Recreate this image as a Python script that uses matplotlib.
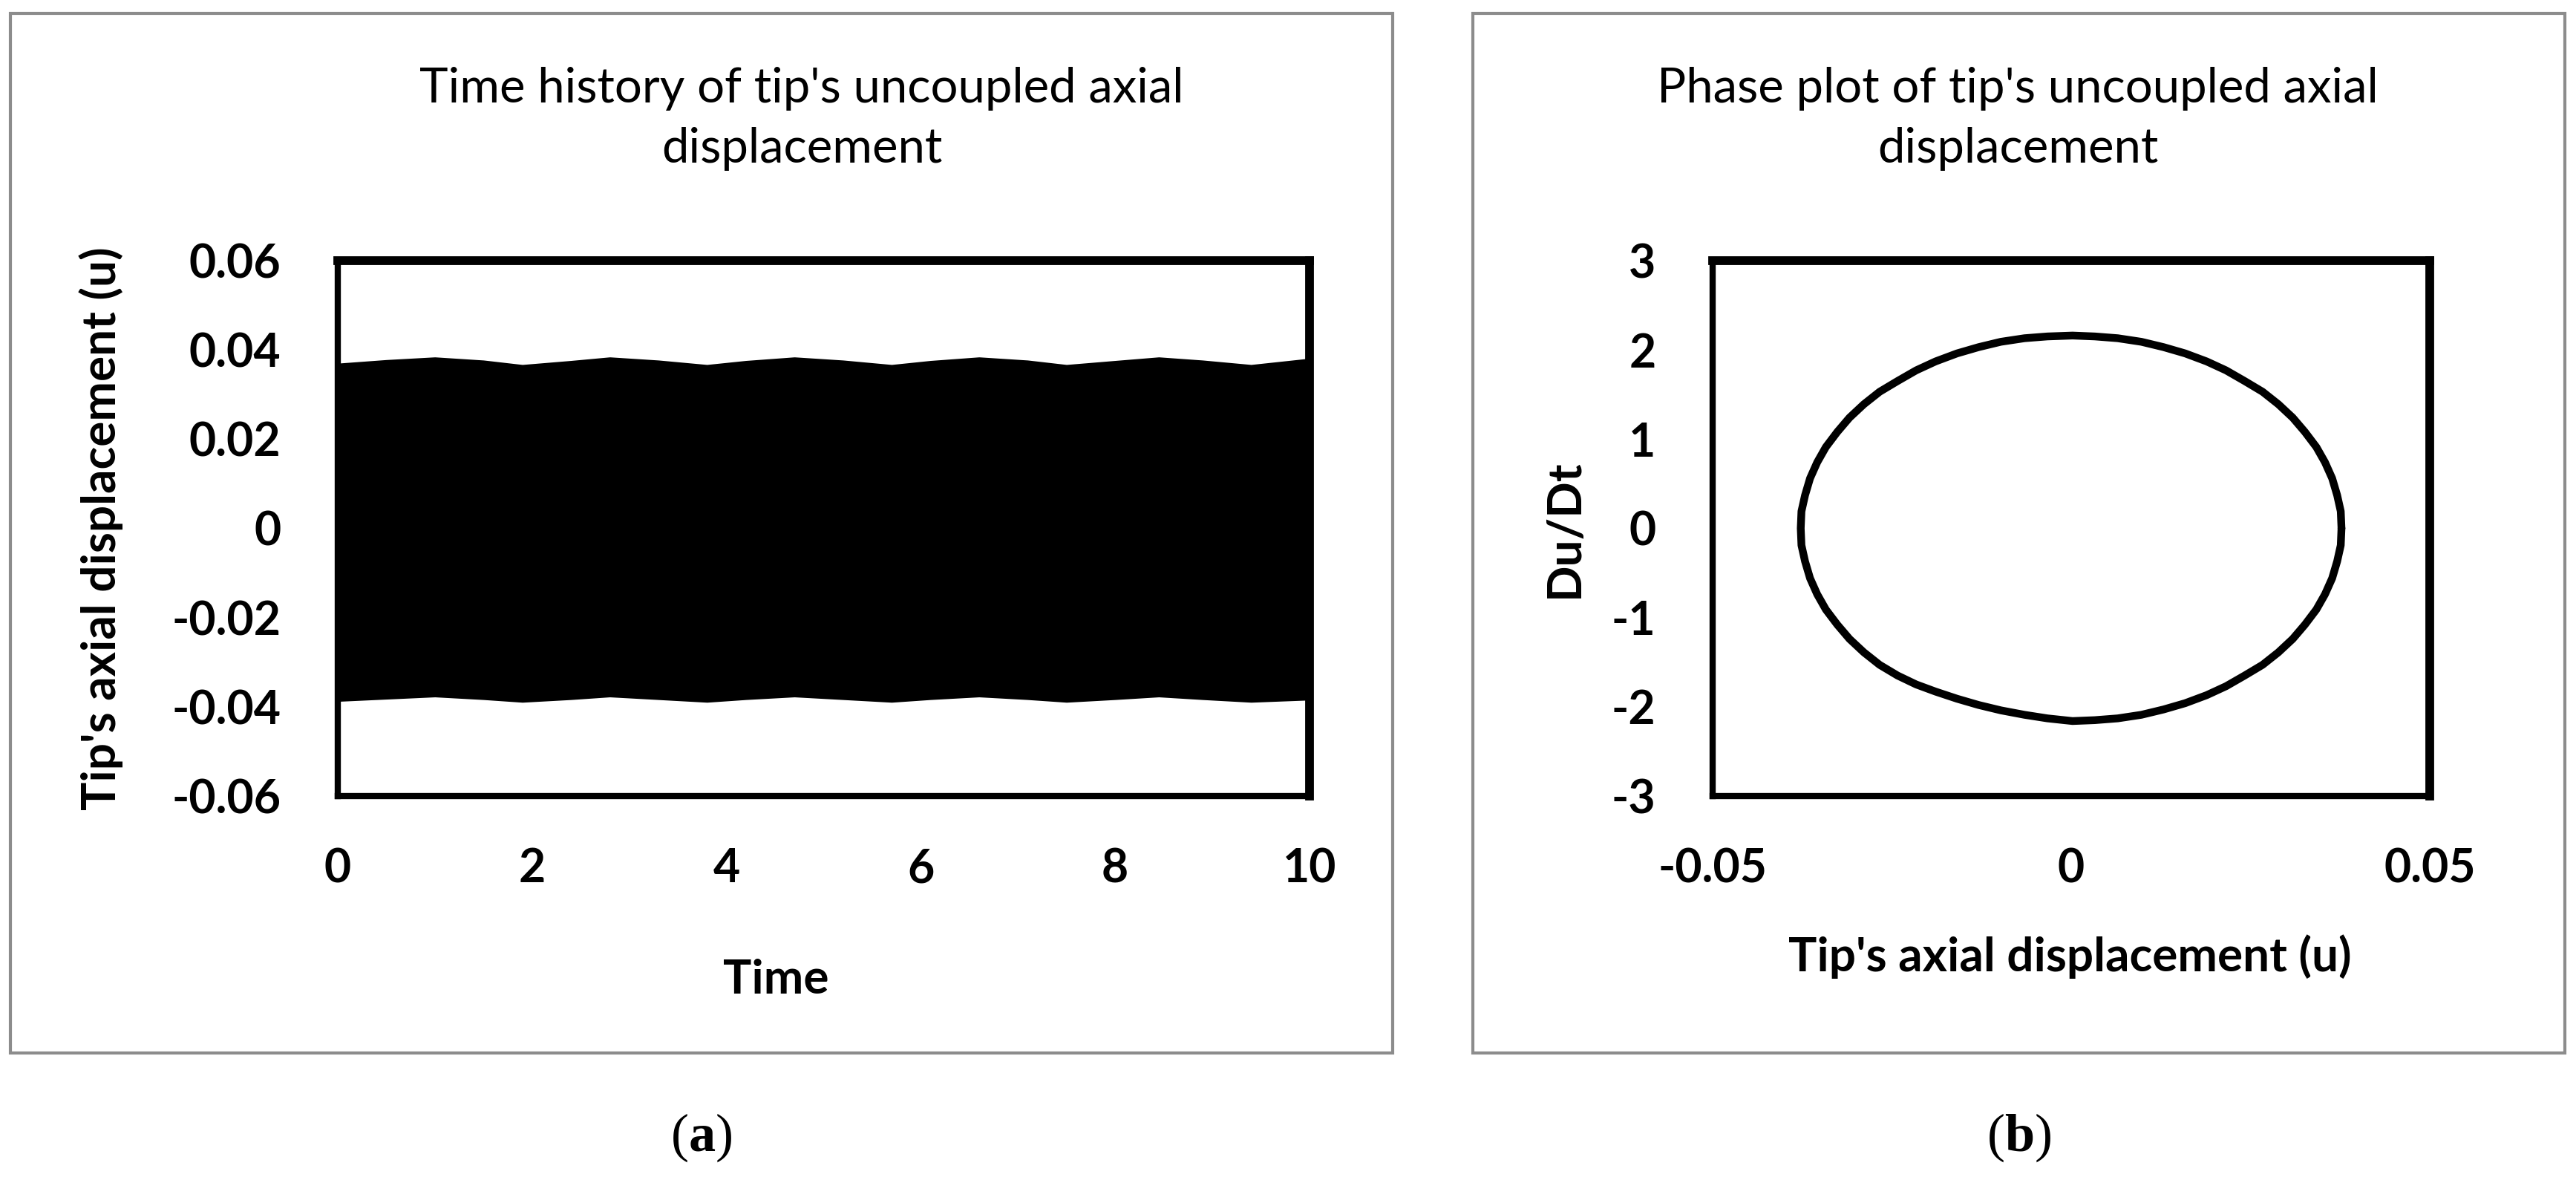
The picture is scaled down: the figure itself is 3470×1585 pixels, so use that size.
import matplotlib
matplotlib.use("Agg")
import matplotlib.pyplot as plt
from matplotlib.patches import Rectangle

# time history: the trace is too dense to read point by point,
# so keep the upper / lower envelope
t_env = [0, 0.5, 1.0, 1.5, 1.9, 2.4, 2.8, 3.3, 3.8, 4.2, 4.7, 5.2, 5.7,
         6.1, 6.6, 7.1, 7.5, 8.0, 8.45, 8.9, 9.4, 10]
u_upper = [0.0370, 0.0378, 0.0384, 0.0377, 0.0367, 0.0376, 0.0384, 0.0377,
           0.0367, 0.0376, 0.0384, 0.0377, 0.0367, 0.0376, 0.0384, 0.0377,
           0.0367, 0.0376, 0.0384, 0.0377, 0.0367, 0.0381]
u_lower = [-0.0388, -0.0383, -0.0378, -0.0384, -0.0390, -0.0384, -0.0378,
           -0.0384, -0.0390, -0.0384, -0.0378, -0.0384, -0.0390, -0.0384,
           -0.0378, -0.0384, -0.0390, -0.0384, -0.0378, -0.0384, -0.0390,
           -0.0385]

# phase plot: points read around the loop
u_phase = [0.0377, 0.0376, 0.0371, 0.0364, 0.0354, 0.0342, 0.0326, 0.0309,
           0.0289, 0.0267, 0.0242, 0.0216, 0.0189, 0.0159, 0.0129, 0.0098,
           0.0065, 0.0033, 0.0002,
           -0.0033, -0.0065, -0.0098, -0.0129, -0.0159, -0.0189, -0.0216,
           -0.0242, -0.0267, -0.0289, -0.0309, -0.0326, -0.0342, -0.0354,
           -0.0364, -0.0371, -0.0376, -0.0377,
           -0.0376, -0.0371, -0.0364, -0.0354, -0.0342, -0.0326, -0.0309,
           -0.0289, -0.0267, -0.0242, -0.0216, -0.0189, -0.0159, -0.0129,
           -0.0098, -0.0065, -0.0033, 0.0002,
           0.0033, 0.0065, 0.0098, 0.0129, 0.0159, 0.0189, 0.0216, 0.0242,
           0.0267, 0.0289, 0.0309, 0.0326, 0.0342, 0.0354, 0.0364, 0.0371,
           0.0376, 0.0377]
du_phase = [0.00, 0.19, 0.37, 0.56, 0.74, 0.91, 1.08, 1.24, 1.39, 1.53,
            1.65, 1.77, 1.87, 1.96, 2.03, 2.09, 2.13, 2.15, 2.16,
            2.15, 2.13, 2.09, 2.03, 1.96, 1.87, 1.77, 1.65, 1.53, 1.39,
            1.24, 1.08, 0.91, 0.74, 0.56, 0.37, 0.19, 0.00,
            -0.19, -0.37, -0.56, -0.74, -0.91, -1.08, -1.24, -1.39, -1.53,
            -1.65, -1.75, -1.83, -1.91, -1.98, -2.04, -2.09, -2.13, -2.16,
            -2.15, -2.13, -2.09, -2.03, -1.96, -1.87, -1.77, -1.65, -1.53,
            -1.39, -1.24, -1.08, -0.91, -0.74, -0.56, -0.37, -0.19, 0.00]

left_xticks = [0, 2, 4, 6, 8, 10]
left_yticks = [-0.06, -0.04, -0.02, 0, 0.02, 0.04, 0.06]
left_ylabels = ["-0.06", "-0.04", "-0.02", "0", "0.02", "0.04", "0.06"]
right_xticks = [-0.05, 0, 0.05]
right_xlabels = ["-0.05", "0", "0.05"]
right_yticks = [-3, -2, -1, 0, 1, 2, 3]

plt.rcParams["font.family"] = ["Lato", "DejaVu Sans"]
plt.rcParams["mathtext.fontset"] = "custom"
plt.rcParams["mathtext.rm"] = "Liberation Serif"
plt.rcParams["mathtext.bf"] = "Liberation Serif:bold"

fig = plt.figure(figsize=(34.7, 15.85), dpi=100)

# grey chart-area frames
for x0, w in [(0.0040, 0.5366), (0.5718, 0.4239)]:
    fig.patches.append(Rectangle((x0, 0.1054), w, 0.8833, transform=fig.transFigure,
                                 fill=False, edgecolor="#8c8c8c", linewidth=3))

ax1 = fig.add_axes([0.1311, 0.3237, 0.3772, 0.4549])
ax2 = fig.add_axes([0.6648, 0.3237, 0.2784, 0.4549])

ax1.fill_between(t_env, u_lower, u_upper, color="black", linewidth=0)
ax1.set_xlim(0, 10)
ax1.set_ylim(-0.06, 0.06)
ax1.set_xticks(left_xticks)
ax1.set_xticklabels([str(v) for v in left_xticks])
ax1.set_yticks(left_yticks)
ax1.set_yticklabels(left_ylabels)

ax2.plot(u_phase, du_phase, color="black", linewidth=7.5,
         solid_joinstyle="round", solid_capstyle="round")
ax2.set_xlim(-0.05, 0.05)
ax2.set_ylim(-3, 3)
ax2.set_xticks(right_xticks)
ax2.set_xticklabels(right_xlabels)
ax2.set_yticks(right_yticks)
ax2.set_yticklabels([str(v) for v in right_yticks])

for ax in (ax1, ax2):
    ax.tick_params(length=0, labelsize=45)
    ax.tick_params(axis="y", pad=55)
    ax.tick_params(axis="x", pad=50)
    for lab in ax.get_xticklabels() + ax.get_yticklabels():
        lab.set_fontweight("bold")
    ax.spines["top"].set_linewidth(8.5)
    ax.spines["right"].set_linewidth(8.5)
    ax.spines["left"].set_linewidth(6)
    ax.spines["bottom"].set_linewidth(6)

ax1.set_xlabel("Time", fontsize=46, fontweight="bold")
ax1.xaxis.set_label_coords(0.451, -0.344)
ax1.xaxis.label.set_va("center")
ax1.set_ylabel("Tip's axial displacement (u)", fontsize=46, fontweight="bold")
ax1.yaxis.set_label_coords(-0.2437, 0.5)
ax1.yaxis.label.set_va("center")

ax2.set_xlabel("Tip's axial displacement (u)", fontsize=46, fontweight="bold")
ax2.xaxis.set_label_coords(0.498, -0.30)
ax2.xaxis.label.set_va("center")
ax2.set_ylabel("Du/Dt", fontsize=46, fontweight="bold")
ax2.yaxis.set_label_coords(-0.206, 0.5)
ax2.yaxis.label.set_va("center")

fig.text(1080 / 3470, 1 - 160 / 1585, "Time history of tip's uncoupled axial\ndisplacement",
         ha="center", va="center", fontsize=47, linespacing=1.45)
fig.text(2718 / 3470, 1 - 160 / 1585, "Phase plot of tip's uncoupled axial\ndisplacement",
         ha="center", va="center", fontsize=47, linespacing=1.45)

fig.text(945 / 3470, 1 - 1532 / 1585, r"$(\mathbf{a})$", ha="center", va="center", fontsize=52)
fig.text(2720 / 3470, 1 - 1532 / 1585, r"$(\mathbf{b})$", ha="center", va="center", fontsize=52)

fig.savefig("out.png", dpi=100, facecolor="white")
